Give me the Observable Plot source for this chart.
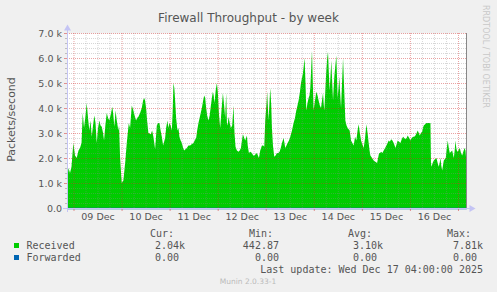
<!DOCTYPE html>
<html><head><meta charset="utf-8">
<script src="https://cdn.jsdelivr.net/npm/d3@7"></script>
<script src="https://cdn.jsdelivr.net/npm/@observablehq/plot@0.6"></script>
<style>
html,body{margin:0;padding:0;background:#F0F0F0;}
#wrap{position:relative;width:497px;height:292px;overflow:hidden;background:#F0F0F0;}
#wrap svg{position:absolute;left:0;top:0;}
.lg{position:absolute;font-family:"DejaVu Sans Mono",monospace;font-size:10px;line-height:10px;color:#555;white-space:pre;}
.sq{position:absolute;width:5px;height:5px;}
.ver{position:absolute;font-family:"DejaVu Sans",sans-serif;font-size:7.5px;line-height:7.5px;color:#bbb;white-space:pre;}
</style></head><body><div id="wrap"></div>
<script>
// ---- data ----
const title = "Firewall Throughput - by week";
const yLabel = "Packets/second";
const sideText = "RRDTOOL / TOBI OETIKER";
const startTime = "2025-12-08T20:45:00Z";
const endTime = "2025-12-17T04:00:00Z";
// offsets in 30-minute steps from startTime
const halfHourOffsets = [0,1.5,3,4.5,6.3,8,9.7,11.5,13,14.5,15.7,17,18.5,19.7,21,22.3,23.5,24.7,26,27.3,28.5,29.7,31,32.3,33.5,34.7,36,37,38.3,39.7,41,42.3,44,45.3,46.3,47.3,48.5,49.7,51.3,52,53,54,54.7,55.5,56.3,57.3,58.3,59.7,60.7,61.7,63,64.7,66.3,67.5,69,70,71.3,73,74.7,76,77,78,79,80,81.3,83.7,85,86.3,88,89.7,91,92.3,93.5,94.7,96,98,99,100.3,101.3,102.3,103.5,104.7,105.5,106.3,107.2,108,109,110.3,111.3,112.3,113.5,114.7,116,117,118.3,119.7,121.3,123,124.5,126.3,127.5,129,130,131.3,133,134.7,136,137,138,139,140,141.3,142.5,143.7,144.7,145.7,146.5,147.3,148.5,149.7,150.7,151.7,153,154.3,155.7,156.7,158,159,159.7,160.5,161.3,162.5,163.7,165,166.3,167.3,168.3,169.7,171.3,172.5,173.7,174.7,175.7,177,178,179.7,180.5,181.7,183,184.7,186,187,188.3,189.7,190.7,191.7,193,194.7,196,197,198,199.3,199.9,200.7,201.3,202.2,203,204,204.7,205.7,207,208.3,209.7,211,212.3,213.5,214.7,216.3,217.2,218,219.2,220.3,221.7,223,224.7,226.3,227.7,229,230.2,231.3,232.5,233.7,234.7,235.7,236.5,237.3,238.2,239,240.2,241.3,242.2,243,243.9,244.7,245.5,246.3,247.7,249,250.2,251.3,252.5,253.7,254.7,255.7,256.3,257,258,259,259.9,260.7,261.5,262.3,263.2,264,264.9,265.7,266.3,267,268,269,269.7,270.3,271.2,272,272.8,273.7,274.7,275.7,276.8,278,279.2,280.3,281.3,282.3,283,283.7,285,286.3,287.7,289,290.2,291.3,292.5,293.7,295,296.3,297.7,299,300.2,301.3,302.2,303,304.7,306.3,308,309.7,310.7,311.7,312.7,313.7,315,316.3,317.7,319,320.2,321.3,322.5,323.7,325,326.3,327.2,328,329.2,330.3,331.7,333,334.3,335.7,336.8,338,339.2,340.3,341.7,343,344.3,345.7,346.8,348,349.2,350.3,351.3,352.3,353.5,354.7,355.5,356.3,357.7,359,360.2,361.3,362.2,363,363.5,364,365.2,366.3,367.7,369,370.2,371.3,372.2,373,373.8,374.7,375.5,376.3,377.3,378.3,379.3,380.3,381.3,382.3,383.5,384.7,385.5,386.3,387.2,388,388.8,389.7,391,392.3,393.5,394.7,395.8,397,398,398.5];
// Received, thousands of packets/second
const receivedK = [1.0,1.6,1.4,1.65,2.6,2.1,2.0,2.3,2.4,2.6,3.8,3.2,3.7,4.2,3.6,3.1,3.5,2.85,3.3,3.7,3.4,2.6,3.2,3.5,3.3,3.25,3.0,2.7,3.3,3.8,3.6,3.5,3.8,4.05,3.7,3.25,3.9,3.5,3.1,3.3,2.05,1.4,1.0,1.05,1.1,1.5,1.9,2.6,3.0,3.4,3.2,4.1,3.9,3.7,3.5,3.6,3.65,3.8,4.0,4.3,4.4,4.3,4.0,3.5,3.0,2.95,3.1,2.85,2.35,3.3,3.4,3.4,3.1,2.85,2.5,2.8,3.2,3.5,3.2,3.4,3.3,3.1,3.8,5.0,4.8,4.3,3.6,3.1,3.2,2.85,2.7,2.6,2.4,2.3,2.35,2.4,2.5,2.5,2.55,2.6,2.7,2.8,3.1,3.4,3.7,4.0,4.3,4.5,4.4,4.0,3.7,3.5,3.7,4.1,4.4,4.65,4.5,4.2,4.7,5.0,4.6,3.8,3.2,3.9,4.6,4.2,3.6,4.6,3.4,3.3,3.65,3.4,3.2,3.3,4.1,3.0,2.45,2.3,2.25,2.3,2.4,2.7,2.95,2.8,2.7,2.9,2.5,2.2,2.25,2.2,2.1,2.1,2.15,2.2,2.1,2.0,2.3,2.5,2.5,2.45,3.5,4.2,4.65,4.0,3.5,4.2,4.8,4.1,3.2,2.5,2.05,2.1,2.2,2.2,2.25,2.4,2.6,2.8,2.6,2.4,2.5,2.6,2.7,2.85,3.1,3.4,3.6,3.9,4.1,4.3,4.6,5.0,5.2,5.4,5.7,6.0,5.0,3.9,4.2,4.4,4.5,4.8,5.6,6.3,5.0,3.9,4.3,4.65,4.5,4.3,4.1,4.0,4.3,4.6,4.2,3.9,4.7,5.5,6.0,6.25,5.4,4.7,5.3,5.9,5.0,4.3,4.8,5.25,5.7,6.1,5.2,4.4,4.8,5.25,4.6,4.0,5.0,6.0,4.8,3.5,3.3,3.2,3.15,3.1,2.9,2.7,2.6,2.5,2.85,2.7,3.1,3.35,3.0,2.7,2.55,2.4,2.8,3.35,3.0,2.6,2.3,2.1,2.0,1.9,1.85,1.8,2.0,2.2,2.2,2.25,2.2,2.3,2.4,2.5,2.6,2.7,2.65,2.75,2.7,2.6,2.5,2.4,2.55,2.7,2.65,2.6,2.75,2.85,2.8,2.75,2.8,2.9,2.8,2.7,2.8,2.85,2.85,2.9,3.0,3.1,3.0,2.9,3.0,3.05,3.2,3.3,3.35,3.4,3.4,3.4,3.4,3.4,1.8,1.65,1.8,1.9,1.95,2.0,1.8,1.65,1.8,2.0,1.7,1.5,1.7,1.9,1.95,2.0,2.4,2.7,2.4,2.2,2.25,2.3,2.15,2.0,2.3,2.7,2.4,2.25,2.3,2.4,2.2,2.1,2.25,2.4,2.3,2.04];
const forwardedOffsets = [0, 398.5];
const forwardedValues = [0, 0];
const yTicks = [0, 1000, 2000, 3000, 4000, 5000, 6000, 7000];
const dayLabelTimes = ["2025-12-09T12:00Z","2025-12-10T12:00Z","2025-12-11T12:00Z","2025-12-12T12:00Z","2025-12-13T12:00Z","2025-12-14T12:00Z","2025-12-15T12:00Z","2025-12-16T12:00Z"];
const seriesNames = ["Received", "Forwarded"];
const legendHeaders = ["Cur:", "Min:", "Avg:", "Max:"];
const legendValues = [["2.04k", "442.87 ", "3.10k", "7.81k"], ["0.00 ", "0.00 ", "0.00 ", "0.00 "]];
const lastUpdate = "Last update: Wed Dec 17 04:00:00 2025";
const version = "Munin 2.0.33-1";

// ---- styles ----
const seriesColors = ["#00CC00", "#0066B3"];
const axisColor = "#c4c4f4";

const t0 = new Date(startTime), t1 = new Date(endTime);
const rows = halfHourOffsets.map((s, i) => ({t: new Date(+t0 + s * 1800e3), v: receivedK[i] * 1000}));
const fwd = forwardedOffsets.map((s, i) => ({t: new Date(+t0 + s * 1800e3), v: forwardedValues[i]}));
const majorX = d3.utcDay.range(t0, new Date(+t1 + 1));
const minorX = d3.utcHour.every(6).range(t0, t1).filter(d => d.getUTCHours() !== 0);
const majorY = yTicks.filter(v => v > 0);
const minorY = d3.range(200, 7000, 200).filter(v => v % 1000 !== 0);
const fmtY = v => v === 0 ? "0.0" : (v / 1000).toFixed(1) + " k";

const W = 497, H = 226;
const chart = Plot.plot({
  width: W, height: H,
  marginTop: 33, marginBottom: H - 208, marginLeft: 67, marginRight: 31,
  style: {background: "#F0F0F0", fontFamily: "DejaVu Sans, sans-serif", fontSize: "9.5px", color: "#555", overflow: "visible"},
  x: {type: "utc", domain: [t0, t1], axis: null},
  y: {domain: [0, 7000], axis: null},
  marks: [
    Plot.frame({fill: "#ffffff", stroke: null}),
    Plot.areaY(rows, {x: "t", y: "v", fill: seriesColors[0]}),
    Plot.lineY(fwd, {x: "t", y: "v", stroke: seriesColors[1]}),
    Plot.ruleY(minorY, {stroke: "#8c8c8c", strokeOpacity: 0.35, strokeDasharray: "1,1"}),
    Plot.ruleX(minorX, {stroke: "#8c8c8c", strokeOpacity: 0.35, strokeDasharray: "1,1"}),
    Plot.ruleY(majorY, {stroke: "#d03030", strokeOpacity: 0.45, strokeDasharray: "1,1"}),
    Plot.ruleX(majorX, {stroke: "#d03030", strokeOpacity: 0.45, strokeDasharray: "1,1"}),
    // small ticks outside the axes
    Plot.ruleX(majorX, {stroke: "#d03030", strokeOpacity: 0.5, insetTop: 175, insetBottom: -3}),
    Plot.ruleY(yTicks, {stroke: "#d03030", strokeOpacity: 0.5, insetLeft: -3, insetRight: 399}),
    Plot.ruleY(minorY, {stroke: "#8c8c8c", strokeOpacity: 0.5, insetLeft: -2, insetRight: 399}),
    // axis lines with arrows
    Plot.ruleX([t0], {stroke: axisColor, insetTop: -4, insetBottom: -4}),
    Plot.ruleY([0], {stroke: axisColor, insetLeft: -4, insetRight: -4}),
    Plot.dot([t0], {x: d => d, y: () => 7000, symbol: "triangle", r: 2.6, fill: axisColor, stroke: null, dy: -5}),
    Plot.dot([t1], {x: d => d, y: () => 0, symbol: "triangle", r: 2.6, fill: axisColor, stroke: null, dx: 5, rotate: 90}),
    Plot.ruleX([t1], {stroke: "#888"}),
    Plot.axisY({ticks: yTicks, tickFormat: fmtY, tickSize: 0, tickPadding: 5.5, fontSize: 9.5, label: null}),
    Plot.axisX({ticks: dayLabelTimes.map(d => new Date(d)), tickFormat: d3.utcFormat("%d %b"), tickSize: 0, tickPadding: 4.5, fontSize: 9.5, label: null}),
    Plot.text([title], {frameAnchor: "top", dx: -18.5, dy: -20, fontSize: 12, fill: "#555"}),
    Plot.text([yLabel], {frameAnchor: "left", dx: -56.5, dy: -1.5, rotate: -90, fontSize: 11, fill: "#555", textAnchor: "middle"}),
    Plot.text([sideText], {frameAnchor: "top-right", dx: 22.5, dy: 23, rotate: 90, fontSize: 8, fill: "#c8c8c8", textAnchor: "middle"})
  ]
});
const wrap = document.getElementById("wrap");
wrap.appendChild(chart);

// ---- legend (HTML, below the SVG) ----
function addText(cls, txt, top, left, right) {
  const d = document.createElement("div");
  d.className = cls;
  d.textContent = txt;
  d.style.top = top + "px";
  if (left != null) d.style.left = left + "px";
  if (right != null) d.style.right = (W - right) + "px";
  wrap.appendChild(d);
}
const headerRights = [174, 273, 372, 471];
const valueRights = [185, 285, 383, 483];
const rowTops = [240.7, 252.7];
legendHeaders.forEach((h, i) => addText("lg", h, 228.7, null, headerRights[i]));
seriesNames.forEach((n, r) => {
  const sq = document.createElement("div");
  sq.className = "sq";
  sq.style.left = "14px";
  sq.style.top = (rowTops[r] + 2.3) + "px";
  sq.style.background = seriesColors[r];
  wrap.appendChild(sq);
  addText("lg", n, rowTops[r], 26.5, null);
  legendValues[r].forEach((v, i) => addText("lg", v, rowTops[r], null, valueRights[i]));
});
addText("lg", lastUpdate, 264.7, null, 483);
const vd = document.createElement("div");
vd.className = "ver"; vd.textContent = version;
vd.style.top = "277.5px"; vd.style.left = "248px"; vd.style.transform = "translateX(-50%)";
wrap.appendChild(vd);
</script></body></html>
